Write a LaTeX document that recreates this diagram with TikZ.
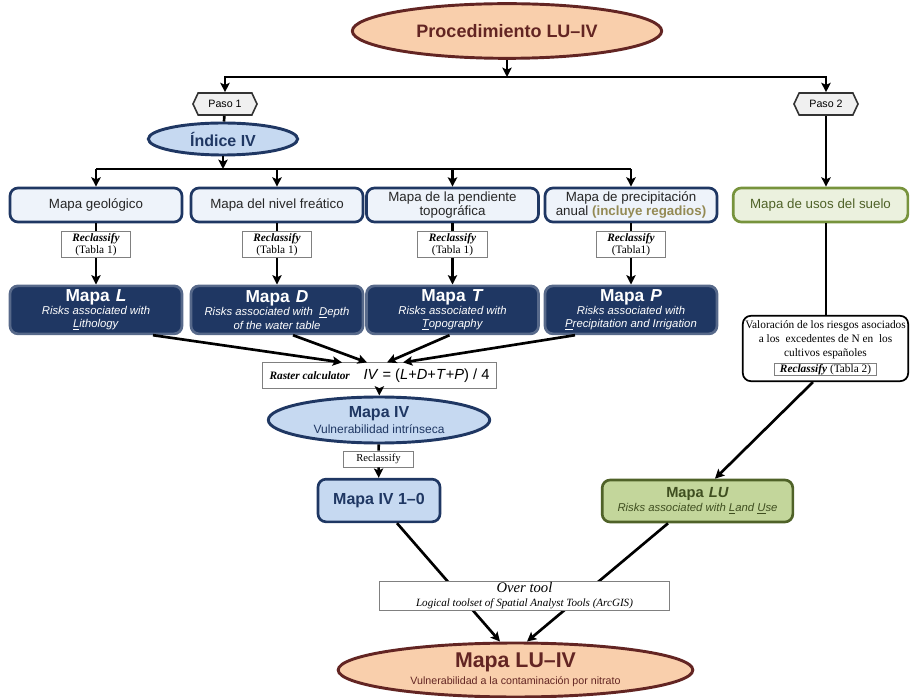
\documentclass[tikz,border=0pt]{standalone}
\usepackage{fontspec}
\setmainfont{Liberation Serif}
\setsansfont{Liberation Sans}
\usepackage{tikz}
\usetikzlibrary{arrows.meta}
\usetikzlibrary{shapes.geometric,shapes.symbols}
\usetikzlibrary{positioning}
\usetikzlibrary{calc}
\definecolor{peach}{HTML}{F9CFAC}
\definecolor{brownish}{HTML}{632523}
\definecolor{navy}{HTML}{1F3763}
\definecolor{lightblue}{HTML}{C6D9F1}
\definecolor{paleblue}{HTML}{EEF3FA}
\definecolor{olive}{HTML}{77933C}
\definecolor{darkolive}{HTML}{4F6228}
\definecolor{palegreen}{HTML}{EBF1DE}
\definecolor{leafgreen}{HTML}{C3D69B}
\definecolor{khaki}{HTML}{948A54}
\tikzstyle{block} = [draw=navy, line width=2pt, rounded corners=6pt, fill=paleblue, minimum height=25.5pt, minimum width=129pt, inner sep=1pt, align=center, text=black!85, font=\sffamily\fontsize{10}{11}\selectfont]
\tikzstyle{darkblock} = [block, fill=navy, draw=navy!75!white, text=white, minimum height=36pt, font=\sffamily\fontsize{8.5}{10}\selectfont]
\tikzstyle{greenblock} = [block, fill=palegreen, draw=olive, text=darkolive]
\tikzstyle{ellip} = [ellipse, line width=2.2pt, draw=navy, fill=lightblue, inner sep=0pt, align=center, text=navy]
\tikzstyle{paso} = [signal, signal to=west and east, signal pointer angle=130, draw=black!80, fill=black!6, line width=1.2pt, minimum width=48pt, minimum height=16.5pt, inner sep=1pt, font=\sffamily\fontsize{8}{9}\selectfont]
\tikzstyle{reclass} = [draw=black!50, fill=white, line width=0.6pt, minimum width=52pt, minimum height=17pt, inner sep=1pt, align=center, font=\fontsize{8.5}{9.5}\selectfont]
\tikzstyle{arrow} = [line width=2pt, -{Stealth[length=7pt,width=7pt,inset=1.5pt]}]
\tikzstyle{link} = [line width=2pt]
\newcommand{\maphead}{\fontsize{13}{14}\selectfont\bfseries}

\begin{document}
\begin{tikzpicture}[x=0.75pt, y=-0.75pt]
	\useasboundingbox (0,0) rectangle (910,698);

	% Procedure and steps
	\node[ellip, fill=peach, draw=brownish, text=brownish, minimum width=232pt, minimum height=41pt, font=\sffamily\bfseries\fontsize{13.5}{15}\selectfont] (proc) at (507,31) {Procedimiento LU–IV};
	\coordinate (split) at (507,77);
	\node[paso] (paso1) at (225,104) {Paso 1};
	\node[paso] (paso2) at (826,104) {Paso 2};
	\node[ellip, minimum width=112pt, minimum height=24pt, font=\sffamily\bfseries\fontsize{12}{13}\selectfont] (indice) at (223,139) {Índice IV};
	\coordinate (split2) at (223,169);

	% Input maps
	\node[block] (geo) at (96,205) {Mapa geológico};
	\node[block] (fre) at (277,205) {Mapa del nivel freático};
	\node[block] (pen) at (452.5,205) {Mapa de la pendiente\\ topográfica};
	\node[block] (pre) at (631,205) {Mapa de precipitación\\ anual {\color{khaki}\bfseries(incluye regadios)}};
	\node[greenblock, minimum width=131pt] (usos) at (820.5,205) {Mapa de usos del suelo};

	% Reclassify
	\node[reclass, below = 6pt of geo] (rec1) {\textbf{\textit{Reclassify}}\\ (Tabla 1)};
	\node[reclass, below = 6pt of fre] (rec2) {\textbf{\textit{Reclassify}}\\ (Tabla 1)};
	\node[reclass, below = 6pt of pen] (rec3) {\textbf{\textit{Reclassify}}\\ (Tabla 1)};
	\node[reclass, below = 6pt of pre] (rec4) {\textbf{\textit{Reclassify}}\\ (Tabla1)};

	% Risk maps
	\node[darkblock, below = 20pt of rec1] (mapL) {{\maphead Mapa\hspace{0.35em}\textit{L}}\\ \textit{Risks associated with}\\ \textit{\underline{L}ithology}};
	\node[darkblock, below = 20pt of rec2] (mapD) {{\maphead Mapa\hspace{0.35em}\textit{D}}\\ \textit{Risks associated with\ \ \underline{D}epth}\\ \textit{of the water table}};
	\node[darkblock, below = 20pt of rec3] (mapT) {{\maphead Mapa\hspace{0.35em}\textit{T}}\\ \textit{Risks associated with}\\ \textit{\underline{T}opography}};
	\node[darkblock, below = 20pt of rec4] (mapP) {{\maphead Mapa\hspace{0.35em}\textit{P}}\\ \textit{Risks associated with}\\ \textit{\underline{P}recipitation and Irrigation}};

	% Raster calculator and intrinsic vulnerability
	\node[reclass, minimum width=176pt, minimum height=19pt] (raster) at (379.5,375.5) {\textbf{\textit{Raster calculator}}\hspace{1.2em}{\sffamily\fontsize{11}{12}\selectfont\textit{IV} = (\textit{L}+\textit{D}+\textit{T}+\textit{P}) / 4}};
	\node[ellip, minimum width=166pt, minimum height=34.5pt] (mapIV) at (379,420) {{\sffamily\bfseries\fontsize{12}{13}\selectfont Mapa IV}\\ {\sffamily\fontsize{9}{10}\selectfont Vulnerabilidad intrínseca}};
	\node[reclass, minimum height=12pt, font=\fontsize{8}{9}\selectfont] (recIV) at (378.5,459) {Reclassify};
	\node[block, fill=lightblue, text=navy, minimum width=91.5pt, minimum height=32pt, font=\sffamily\bfseries\fontsize{12}{13}\selectfont] (mapIV10) at (379,500.5) {Mapa IV 1–0};

	% Land use branch
	\node[draw, line width=1.3pt, rounded corners=6pt, fill=white, minimum width=124pt, minimum height=49pt, inner sep=1pt, align=center, font=\fontsize{8.5}{10.5}\selectfont] (valor) at (825.5,348.5) {Valoración de los riesgos asociados\\ a los\ \ excedentes de N en\ \ los\\ cultivos españoles\\[1pt] \setlength{\fboxsep}{0.5pt}\fcolorbox{black!50}{white}{\makebox[75pt]{\textbf{\textit{Reclassify}} (Tabla 2)}}};
	\node[greenblock, fill=leafgreen, draw=darkolive, text=darkolive!80!black, minimum width=143pt, minimum height=31.5pt, font=\sffamily\fontsize{8.5}{10}\selectfont] (mapLU) at (697.5,501) {{\fontsize{11}{12}\selectfont\bfseries Mapa\hspace{0.35em}\textit{LU}}\\ \textit{Risks associated with \underline{L}and \underline{U}se}};

	% Final map
	\node[ellip, fill=peach, draw=brownish, text=brownish, minimum width=266pt, minimum height=40.5pt] (final) at (515.5,670) {{\sffamily\bfseries\fontsize{16}{17}\selectfont Mapa LU–IV}\\[1pt] {\sffamily\fontsize{8}{9}\selectfont Vulnerabilidad a la contaminación por nitrato}};

	% Connect the upper part
	\draw[arrow] (proc) -- (split);
	\draw[arrow] (split) -| (paso1);
	\draw[arrow] (split) -| (paso2);
	\draw[link] (paso1) -- (indice);
	\draw[arrow] (indice) -- (split2);
	\draw[link] (geo.north |- split2) -- (pre.north |- split2);
	\foreach \b in {geo,fre,pen,pre}
		\draw[arrow] (\b.north |- split2) -- (\b);
	\draw[arrow] (paso2) -- (paso2 |- usos.north);

	% Reclassify steps
	\draw[link] (geo) -- (rec1);
	\draw[link] (fre) -- (rec2);
	\draw[link] (pen) -- (rec3);
	\draw[link] (pre) -- (rec4);
	\draw[arrow] (rec1) -- (mapL);
	\draw[arrow] (rec2) -- (mapD);
	\draw[arrow] (rec3) -- (mapT);
	\draw[arrow] (rec4) -- (mapP);

	% Into the raster calculator
	\draw[arrow] ($(mapL.south)+(57,0)$) -- ($(raster.north)+(-37.5,0)$);
	\draw[arrow] ($(mapD.south)+(16,0)$) -- ($(raster.north)+(-12.5,0)$);
	\draw[arrow] ($(mapT.south)+(-3,0)$) -- ($(raster.north)+(7.5,0)$);
	\draw[arrow] ($(mapP.south)+(-56,0)$) -- ($(raster.north)+(23.5,0)$);
	\draw[arrow] (raster) -- (mapIV);
	\draw[link] (mapIV) -- (recIV);
	\draw[arrow] (recIV) -- (mapIV10);

	% Land use
	\draw[link] (paso2 |- usos.south) -- (paso2 |- valor.north);
	\draw[arrow] ($(valor.south)+(-12.5,0)$) -- ($(mapLU.north)+(17.5,0)$);

	% Overlay
	\draw[arrow] ($(mapIV10.south)+(18,0)$) -- ($(final.north)+(-15.5,0)$);
	\draw[arrow] ($(mapLU.south)+(-29.5,0)$) -- ($(final.north)+(11.5,0)$);
	\node[reclass, minimum width=218pt, minimum height=21pt, font=\fontsize{11}{10.5}\selectfont] (over) at (524.5,596) {\textit{Over tool}\\ {\fontsize{8.3}{9}\selectfont\textit{Logical toolset of Spatial Analyst Tools (ArcGIS)}}};

\end{tikzpicture}
\end{document}
